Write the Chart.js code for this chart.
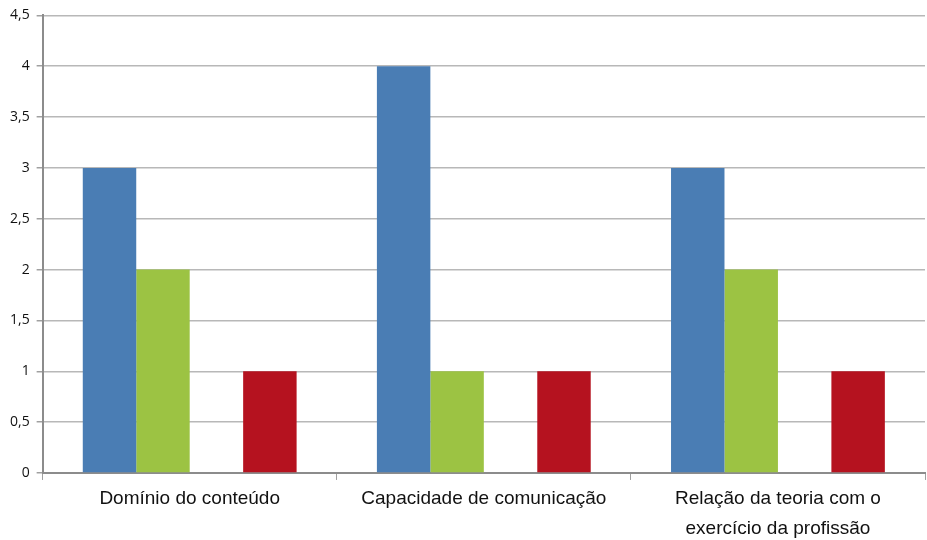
<!DOCTYPE html>
<html>
<head>
<meta charset="utf-8">
<script src="https://cdn.jsdelivr.net/npm/chart.js@4/dist/chart.umd.min.js"></script>
<style>
  html, body { margin: 0; padding: 0; background: #fff; }
  #wrap { width: 927px; height: 540px; }
</style>
</head>
<body>
<div id="wrap"><canvas id="barChart"></canvas></div>
<script>
const categories = [
    'Domínio do conteúdo',
    'Capacidade de comunicação',
    ['Relação da teoria com o', 'exercício da profissão']
];
const serieA = [3, 4, 3];
const serieB = [2, 1, 2];
const serieC = [0, 0, 0];
const serieD = [1, 1, 1];
const yTicks = [0, 0.5, 1, 1.5, 2, 2.5, 3, 3.5, 4, 4.5];

const barCtx = document.getElementById('barChart');
new Chart(barCtx, {
    type: 'bar',
    data: {
        labels: categories,
        datasets: [{
            label: 'Série 1',
            data: serieA,
            backgroundColor: '#4a7db4'
        }, {
            label: 'Série 2',
            data: serieB,
            backgroundColor: '#9cc343'
        }, {
            label: 'Série 3',
            data: serieC,
            backgroundColor: '#f79646'
        }, {
            label: 'Série 4',
            data: serieD,
            backgroundColor: '#b5121f'
        }]
    },
    options: {
        responsive: true,
        maintainAspectRatio: false,
        animation: false,
        categoryPercentage: 0.727,
        barPercentage: 1,
        layout: {
            padding: { top: 8, right: 2, left: 3, bottom: -8 }
        },
        plugins: {
            legend: { display: false },
            title: { display: false },
            tooltip: { enabled: false }
        },
        scales: {
            x: {
                grid: {
                    offset: true,
                    drawOnChartArea: false,
                    drawTicks: true,
                    tickLength: 7,
                    color: '#a0a0a0'
                },
                border: { color: '#8c8c8c', width: 2 },
                ticks: {
                    color: '#111',
                    padding: 4,
                    font: { family: '"Liberation Sans", Arial', size: 19, lineHeight: 1.58 }
                }
            },
            y: {
                min: 0,
                max: 4.5,
                afterBuildTicks: axis => {
                    axis.ticks = yTicks.map(v => ({ value: v }));
                },
                grid: {
                    color: '#b8b8b8',
                    lineWidth: 1.5,
                    tickLength: 6,
                    tickColor: '#a0a0a0'
                },
                border: { color: '#8c8c8c', width: 2 },
                ticks: {
                    color: '#111',
                    padding: 7,
                    font: { family: '"Open Sans", "Liberation Sans", Arial', size: 14 },
                    callback: v => String(v).replace('.', ',')
                }
            }
        }
    }
});
</script>
</body>
</html>
